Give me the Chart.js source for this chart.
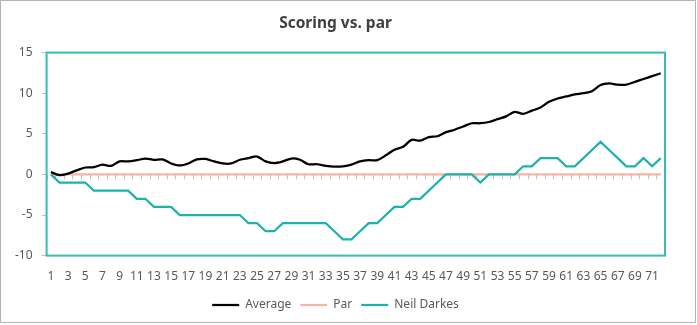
<!DOCTYPE html>
<html>
<head>
<meta charset="utf-8">
<script src="https://cdn.jsdelivr.net/npm/chart.js@4"></script>
<style>
  html, body { margin: 0; padding: 0; background: #fff; }
  #wrap { width: 697px; height: 325px; }
</style>
</head>
<body>
<div id="wrap"><canvas id="grafico" width="697" height="325"></canvas></div>
<script>
// Datos
const rondas = Array.from({ length: 72 }, (_, i) => String(i + 1));
const promedio = [0.3, -0.1, 0.1, 0.5, 0.85, 0.9, 1.2, 1.05, 1.6, 1.6, 1.75, 1.95, 1.8, 1.85, 1.35, 1.1, 1.35, 1.85,
  1.9, 1.6, 1.35, 1.35, 1.8, 2.0, 2.2, 1.6, 1.4, 1.6, 1.95, 1.8, 1.25, 1.25, 1.05, 0.95, 1.0, 1.2, 1.6, 1.75,
  1.75, 2.35, 3.05, 3.4, 4.25, 4.15, 4.6, 4.7, 5.2, 5.5, 5.9, 6.3, 6.3, 6.45, 6.8, 7.15, 7.7, 7.45, 7.85, 8.25,
  8.95, 9.35, 9.6, 9.85, 10.0, 10.25, 11.0, 11.2, 11.05, 11.05, 11.4, 11.75, 12.1, 12.45];
const par = rondas.map(() => 0);
const neilDarkes = [0, -1, -1, -1, -1, -2, -2, -2, -2, -2, -3, -3, -4, -4, -4, -5, -5, -5, -5, -5, -5, -5, -5, -6,
  -6, -7, -7, -6, -6, -6, -6, -6, -6, -7, -8, -8, -7, -6, -6, -5, -4, -4, -3, -3, -2, -1, 0, 0, 0, 0, -1, 0,
  0, 0, 0, 1, 1, 2, 2, 2, 1, 1, 2, 3, 4, 3, 2, 1, 1, 2, 1, 2];

const fuente = "'Noto Sans', 'Open Sans', sans-serif";
const gris = '#595959';

// Borde del area de trazado, marcas en el eje cero y borde exterior
const bordes = {
  id: 'bordes',
  beforeDatasetsDraw(chart) {
    const { ctx, scales } = chart;
    const x = scales.x;
    const y0 = scales.y.getPixelForValue(0);
    ctx.save();
    ctx.strokeStyle = '#bfbfbf';
    ctx.lineWidth = 1;
    ctx.beginPath();
    for (let i = 0; i <= rondas.length; i++) {
      const px = Math.round(x.getPixelForValue(i - 0.5)) + 0.5;
      ctx.moveTo(px, y0);
      ctx.lineTo(px, y0 + 5);
    }
    ctx.stroke();
    ctx.restore();
  },
  afterDraw(chart) {
    const { ctx, chartArea } = chart;
    ctx.save();
    ctx.strokeStyle = '#36bcb6';
    ctx.lineWidth = 2;
    ctx.strokeRect(chartArea.left, chartArea.top, chartArea.right - chartArea.left, chartArea.bottom - chartArea.top);
    ctx.strokeStyle = '#b4b4b4';
    ctx.lineWidth = 1;
    ctx.strokeRect(0.5, 0.5, 695, 322);
    ctx.restore();
  }
};

const ctx = document.getElementById('grafico').getContext('2d');
const grafico = new Chart(ctx, {
  type: 'line',
  data: {
    labels: rondas,
    datasets: [
      { label: 'Average', data: promedio, borderColor: '#000000', backgroundColor: '#000000', borderWidth: 2.25, pointRadius: 0, order: 0, tension: 0.3 },
      { label: 'Par', data: par, borderColor: '#f6b4a4', backgroundColor: '#f6b4a4', borderWidth: 2.25, pointRadius: 0, order: 1 },
      { label: 'Neil Darkes', data: neilDarkes, borderColor: '#1db3ab', backgroundColor: '#1db3ab', borderWidth: 2.25, pointRadius: 0, order: 0 }
    ]
  },
  options: {
    responsive: false,
    animation: false,
    layout: { padding: { left: 6, right: 32, top: 0, bottom: 4 } },
    plugins: {
      title: {
        display: true,
        text: 'Scoring vs. par',
        color: '#404040',
        font: { family: fuente, size: 15.5, weight: 'bold' },
        padding: { top: 14, bottom: 20 }
      },
      legend: {
        position: 'bottom',
        labels: {
          usePointStyle: true,
          pointStyle: 'line',
          pointStyleWidth: 27,
          color: gris,
          font: { family: fuente, size: 12 },
          padding: 9,
          sort: (a, b) => a.datasetIndex - b.datasetIndex
        }
      },
      tooltip: { enabled: false }
    },
    scales: {
      x: {
        offset: true,
        grid: { display: false },
        border: { display: false },
        ticks: {
          autoSkip: false,
          maxRotation: 0,
          color: gris,
          font: { family: fuente, size: 12 },
          padding: 6,
          callback(val, idx) { return idx % 2 === 0 ? this.getLabelForValue(val) : ''; }
        }
      },
      y: {
        min: -10,
        max: 15,
        border: { display: false },
        grid: { drawOnChartArea: false, drawTicks: true, tickLength: 5, color: '#bfbfbf' },
        ticks: { stepSize: 5, color: gris, font: { family: fuente, size: 12 }, padding: 9 }
      }
    }
  },
  plugins: [bordes]
});
</script>
</body>
</html>
